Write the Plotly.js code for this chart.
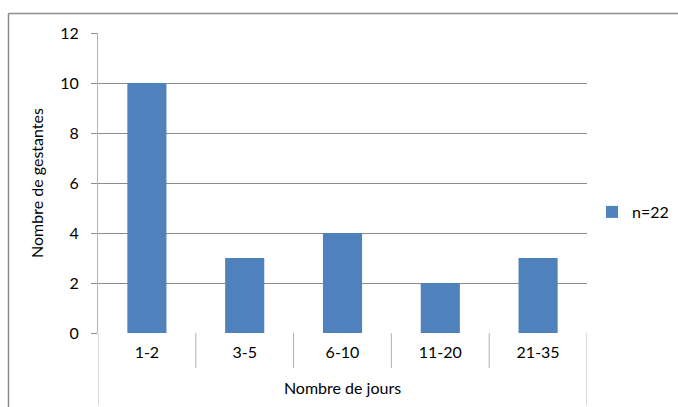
<!DOCTYPE html>
<html>
<head>
<meta charset="utf-8">
<script src="https://cdn.plot.ly/plotly-3.0.1.min.js"></script>
<style>html,body{margin:0;padding:0;background:#fff;}#chart{width:678px;height:407px;}</style>
</head>
<body>
<div id="chart"></div>
<script>
const categories = ['1-2', '3-5', '6-10', '11-20', '21-35'];
const values = [10, 3, 4, 2, 3];
const seriesName = 'n=22';
const yTicks = [0, 2, 4, 6, 8, 10, 12];

const font = 'Lato, "Open Sans", sans-serif';
const FS = 16;
const W = 678, H = 407;
const L = 98, R = 91, T = 33, B = 74;
const pw = W - L - R, ph = H - T - B;
const px = v => (v - L) / pw;          // pixel x -> paper
const py = v => (H - B - v) / ph;      // pixel y -> paper

const shapes = [];
// category separators below the axis
for (let i = 0; i <= categories.length; i++) {
  const edge = i === 0 || i === categories.length;
  shapes.push({type: 'line', xref: 'x', yref: 'paper', x0: i - 0.5, x1: i - 0.5,
    y0: 0, y1: edge ? py(405) : py(368), line: {color: '#b3b3b3', width: 1}});
}
// outer chart frame
shapes.push({type: 'line', xref: 'paper', yref: 'paper', x0: px(8.5), x1: px(8.5), y0: py(13.5), y1: py(420), line: {color: '#8c8c8c', width: 1.5}});
shapes.push({type: 'line', xref: 'paper', yref: 'paper', x0: px(8.5), x1: px(690), y0: py(13.5), y1: py(13.5), line: {color: '#8c8c8c', width: 1.5}});

const data = [{
  type: 'bar', x: categories, y: values, name: seriesName,
  marker: {color: '#4f81bd'}, showlegend: true
}];

const layout = {
  width: W, height: H,
  margin: {l: L, r: R, t: T, b: B, pad: 0, autoexpand: false},
  paper_bgcolor: '#fff', plot_bgcolor: '#fff',
  font: {family: font, size: FS, color: '#000'},
  bargap: 0.6,
  showlegend: true,
  legend: {x: px(592), y: py(212), xanchor: 'left', yanchor: 'middle',
    font: {family: font, size: FS, color: '#000'}, itemwidth: 30, bgcolor: 'rgba(0,0,0,0)'},
  xaxis: {
    type: 'category', range: [-0.5, categories.length - 0.5],
    showgrid: false, zeroline: false, showline: false, ticks: '',
    ticklabelstandoff: 8,
    tickfont: {family: font, size: FS, color: '#000'},
    title: {text: 'Nombre de jours', font: {family: font, size: FS, color: '#000'}, standoff: 22}
  },
  yaxis: {
    range: [0, 12], tickvals: yTicks, ticktext: yTicks.map(String),
    showgrid: true, gridcolor: '#8c8c8c', gridwidth: 1,
    zeroline: false, showline: true, linecolor: '#b3b3b3', linewidth: 1,
    ticks: 'outside', ticklen: 6, tickcolor: '#8c8c8c',
    ticklabelstandoff: 9,
    tickfont: {family: font, size: FS, color: '#000'},
    title: {text: 'Nombre de gestantes', font: {family: font, size: FS, color: '#000'}, standoff: 12}
  },
  shapes: shapes
};

Plotly.newPlot('chart', data, layout, {staticPlot: true, displayModeBar: false});
</script>
</body>
</html>
